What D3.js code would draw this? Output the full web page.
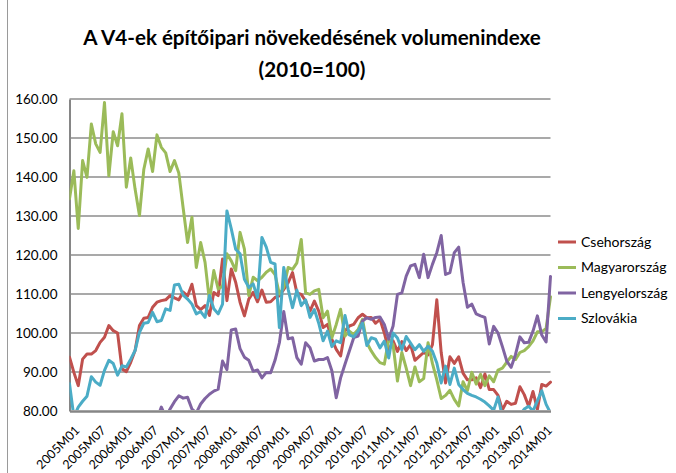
<!DOCTYPE html>
<html>
<head>
<meta charset="utf-8">
<script src="https://cdn.jsdelivr.net/npm/d3@7"></script>
<style>
  html, body { margin: 0; padding: 0; background: #ffffff; }
  svg { display: block; font-family: Lato, "Open Sans", sans-serif; }
</style>
</head>
<body>
<svg id="chart" width="676" height="473"></svg>
<script>
// ---------------- data ----------------
const titleLines = ["A V4-ek építőipari növekedésének volumenindexe", "(2010=100)"];
const seriesNames = ["Csehország", "Magyarország", "Lengyelország", "Szlovákia"];
const seriesColors = ["#C0504D", "#9BBB59", "#8064A2", "#4BACC6"];

// months 2005M01 .. 2014M03
const months = [];
for (let y = 2005; y <= 2014; y++) {
  for (let m = 1; m <= 12; m++) {
    if (y === 2014 && m > 3) break;
    months.push(y + "M" + (m < 10 ? "0" + m : m));
  }
}
const xTickLabels = ["2005M01","2005M07","2006M01","2006M07","2007M01","2007M07","2008M01","2008M07",
  "2009M01","2009M07","2010M01","2010M07","2011M01","2011M07","2012M01","2012M07","2013M01","2013M07","2014M01"];
const yTicks = [80, 90, 100, 110, 120, 130, 140, 150, 160];

const csehorszag = [93.8,89.9,86.5,93.3,94.6,94.6,95.5,97.6,98.9,101.9,100.6,100,90.8,90.1,92.5,95.5,101.9,103.8,104,106.6,
  107.9,108.3,108.5,109.6,109,108.5,110.5,109.5,112.5,107,106,107,104.5,110.4,109.6,119,108.3,116.4,113,107.9,
  104.4,108.7,110.4,108,111,107.9,108,109.1,109.5,111.2,112.9,115.5,110.3,109.9,108.2,105.6,108.2,105.6,101.4,102.2,
  98.4,95.8,94.1,100.5,101.8,102.2,103.9,104.8,103.9,104,102.5,103.5,100,95.5,98,95.3,97.8,95.5,97,93,
  94,95,94.4,97,108.5,95,87.2,93.9,92.2,93.9,89.7,88,88,88.5,86,89.5,85.5,85.5,84,80.3,
  82.5,81.7,82,86.2,84.2,81.2,85,80.4,86.8,86.4,87.4];
const magyarorszag = [134.4,141.6,126.8,144.2,139.9,153.6,148.5,146.3,159.1,140.3,151.6,148,156.2,137.4,144.9,136.9,130.1,142,147.2,141.4,
  150.8,147.6,146.2,141.4,144.2,141,132,123.2,129.7,116.8,123.2,118.1,108.3,116,111.3,112,120.3,118.5,116,125.8,
  121.5,109.6,114.3,113.4,114.3,115.6,116.4,115,110,111.6,116.8,116.3,118,124,110.3,109.9,110.8,111.2,103.9,105.6,
  98.8,102.2,106.1,99.2,100.5,99.6,100.9,103.5,97.5,95.4,93.7,92.4,92,98.5,97,87.7,95,91,86.5,91.3,
  87.5,88.3,97.5,92.2,88,83.2,84,85.3,83,81.3,87.5,85.2,89.9,86.9,89.4,86.5,89,87.5,90.5,91,
  92.5,94,93.2,95,95.5,96.5,98,100.3,100.3,101.2,109.3];
const lengyelorszag = [70,68,66,70,72,71,73,74,72,75,74,73,70,71,72,74,75,77,76,78,
  78,81,78.5,80.5,82.4,83.9,83.3,83.5,80.5,79.5,81.8,83.2,84.3,85.1,85.6,92.8,90.6,100.8,101,96,
  93.8,93,90.2,90.5,88.5,89.9,89.8,93,97.5,105.5,98.5,98.8,93.7,92,97.5,96.2,92.8,93.2,93.2,93.7,
  90.3,83.4,88.5,92,95.4,98.8,99.2,103.1,103.9,103.5,104,104.1,102.2,98.4,101.8,109.9,110.3,114.6,117.2,117.6,
  114.2,120.2,114.2,117.6,120.6,125,115,115.5,120.6,122,113,106.6,107.4,104.9,104.4,104,97.2,101.7,100,96.5,
  92.8,91.2,94.5,99,97.5,97.6,100.5,104.4,99.5,97.7,114.5];
const szlovakia = [87,78.5,81,82.5,83.8,88.8,87.4,86.6,90.4,93,92.2,89.2,91.6,91.3,93.3,95.5,100.2,102.5,102.7,105.3,
  102.9,103.2,106.2,105.8,112.3,112.5,109.7,108.7,107.4,104.9,105.5,104,109.6,106.2,104.9,107.4,131.3,126.7,121.5,120.3,
  113.8,111.7,112.6,109.1,124.5,122,118.1,117.7,101.4,116.8,111.2,106.5,111,107,108.5,104,106,102.5,98,100.5,
  96.5,98,97.5,104.5,99.5,99,100.5,102.5,96.8,98.8,98.4,96.2,97.9,93.6,100,98.7,95.7,99.1,97.4,95.7,
  97,95.3,96.6,95.3,92.3,87.2,91.5,86.8,91,86.8,85.5,84.5,84,83.6,83,82.3,81.3,80.2,83.6,78.5,
  78,78,78,79,80.5,81.2,80,82.6,85.2,81.7,79.5];

const seriesValues = [csehorszag, magyarorszag, lengyelorszag, szlovakia];

// ---------------- layout ----------------
const W = 676, H = 473;
const plot = { left: 69.5, right: 550.5, top: 99, bottom: 411 };

const svg = d3.select("#chart");
svg.append("rect").attr("width", W).attr("height", H).attr("fill", "#ffffff");

// outer chart border (left edge visible)
svg.append("line").attr("x1", 7.5).attr("x2", 7.5).attr("y1", 0).attr("y2", H)
  .attr("stroke", "#9a9a9a").attr("stroke-width", 1);

const x = d3.scalePoint().domain(months).range([plot.left, plot.right]);
const y = d3.scaleLinear().domain([80, 160]).range([plot.bottom, plot.top]);

// gridlines
svg.append("g").selectAll("line").data(yTicks.filter(d => d > 80)).join("line")
  .attr("x1", plot.left).attr("x2", plot.right)
  .attr("y1", d => y(d)).attr("y2", d => y(d))
  .attr("stroke", "#8c8c8c").attr("stroke-width", 1.3);

// y axis
const yAxis = d3.axisLeft(y).tickValues(yTicks).tickFormat(d3.format(".2f")).tickSize(0).tickPadding(12);
const yg = svg.append("g").attr("transform", `translate(${plot.left},0)`).call(yAxis);
yg.select(".domain").attr("stroke", "#868686").attr("stroke-width", 2);
yg.selectAll("text").attr("font-size", 13.5).attr("fill", "#000").attr("font-family", "Lato, sans-serif");

// x axis
const xAxis = d3.axisBottom(x).tickValues(xTickLabels).tickSize(0).tickFormat(d => d);
const xg = svg.append("g").attr("transform", `translate(0,${plot.bottom})`).call(xAxis);
xg.select(".domain").attr("stroke", "#868686").attr("stroke-width", 2.5);
xg.selectAll("text")
  .attr("font-size", 12.5).attr("fill", "#000").attr("font-family", "Lato, sans-serif")
  .attr("text-anchor", "end")
  .attr("dy", null).attr("y", null)
  .attr("transform", "translate(10.5,20) rotate(-45)");

// clip
svg.append("clipPath").attr("id", "plotclip").append("rect")
  .attr("x", plot.left).attr("y", plot.top - 5)
  .attr("width", plot.right - plot.left + 3).attr("height", plot.bottom - plot.top + 5 - 1);

const line = d3.line().x((d, i) => x(months[i])).y(d => y(d)).curve(d3.curveLinear);

const lg = svg.append("g").attr("clip-path", "url(#plotclip)");
seriesValues.forEach((vals, k) => {
  lg.append("path").datum(vals)
    .attr("d", line)
    .attr("fill", "none")
    .attr("stroke", seriesColors[k])
    .attr("stroke-width", 3)
    .attr("stroke-linejoin", "round")
    .attr("stroke-linecap", "round");
});

// legend
const legendY = [242, 267.5, 293, 318.5];
const leg = svg.append("g");
seriesNames.forEach((name, k) => {
  leg.append("line").attr("x1", 558).attr("x2", 576)
    .attr("y1", legendY[k]).attr("y2", legendY[k])
    .attr("stroke", seriesColors[k]).attr("stroke-width", 3);
  leg.append("text").attr("x", 581).attr("y", legendY[k]).attr("dy", "0.35em")
    .attr("font-size", 14).attr("fill", "#000").text(name);
});

// title
const tg = svg.append("g");
const t1 = tg.append("text").attr("x", 312).attr("y", 45).attr("text-anchor", "middle")
  .attr("font-size", 21).attr("font-weight", "bold").text(titleLines[0]);
const t2 = tg.append("text").attr("x", 312).attr("y", 77).attr("text-anchor", "middle")
  .attr("font-size", 21).attr("font-weight", "bold").text(titleLines[1]);
// fit title width to the reference
const target = 458;
const w1 = t1.node().getComputedTextLength();
const fs = 21 * target / w1;
t1.attr("font-size", fs);
t2.attr("font-size", fs);
</script>
</body>
</html>
